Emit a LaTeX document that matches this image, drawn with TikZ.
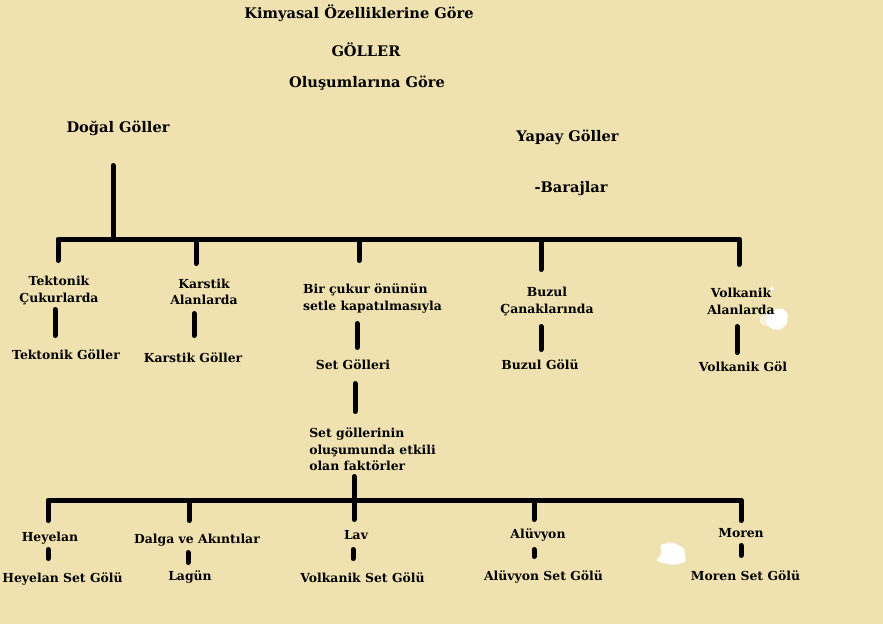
\documentclass[tikz,border=0pt]{standalone}
\usepackage{fontspec}
\setmainfont{DejaVu Serif}
\definecolor{paper}{HTML}{EFE2B0}
\begin{document}
\begin{tikzpicture}[x=1pt,y=-1pt,
  lbl/.style={font=\bfseries\fontsize{12.4}{16.5}\selectfont, inner sep=0pt, anchor=base, align=center},
  ttl/.style={lbl, font=\bfseries\fontsize{14.6}{17}\selectfont},
  lbll/.style={lbl, align=left},
  conn/.style={line width=5pt, line cap=round, line join=round, black, shorten >=2.5pt, shorten <=2.5pt},
  blob/.style={fill=white, draw=none}]
\fill[paper] (0,0) rectangle (883,624);
\useasboundingbox (0,0) rectangle (883,624);

% white eraser marks (behind the text)
\fill[blob, rounded corners=2pt] (770,311) -- (781,308) -- (788,313) -- (787,324) -- (780,330) -- (771,329) -- (766,323) -- cycle;
\fill[blob, opacity=0.6, rounded corners=2pt] (759,318) -- (768,312) -- (772,320) -- (768,327) -- (761,324) -- cycle;
\fill[blob] (772,289) circle (2);
\fill[blob, rounded corners=2pt] (660,545) -- (672,542) -- (684,548) -- (686,562) -- (672,565) -- (656,561) -- (662,553) -- cycle;

% titles
\node[ttl] (kim) at (359,18.5) {Kimyasal Özelliklerine Göre};
\node[ttl] (gol) at (366,56) {GÖLLER};
\node[ttl] (olu) at (367,87.5) {Oluşumlarına Göre};
\node[ttl] (dog) at (118,132.5) {Doğal Göller};
\node[ttl] (yap) at (567.5,141.5) {Yapay Göller};
\node[ttl] (bar) at (571,192) {-Barajlar};

% row 1 (base anchor = last line)
\node[lbl] (tc) at (59,302) {Tektonik\\Çukurlarda};
\node[lbl] (ka) at (204,304.5) {Karstik\\Alanlarda};
\node[lbll] (bc) at (372.5,310) {Bir çukur önünün\\setle kapatılmasıyla};
\node[lbl] (bz) at (547,313) {Buzul\\Çanaklarında};
\node[lbl] (va) at (741,314) {Volkanik\\Alanlarda};

% row 2
\node[lbl] (tg) at (66,359.5) {Tektonik Göller};
\node[lbl] (kg) at (193,362.5) {Karstik Göller};
\node[lbl] (sg) at (353,369.5) {Set Gölleri};
\node[lbl] (buzg) at (540,369.5) {Buzul Gölü};
\node[lbl] (vg) at (743,371.5) {Volkanik Göl};

\node[lbll] (sf) at (372.5,470.5) {Set göllerinin\\oluşumunda etkili\\olan faktörler};

% row 3
\node[lbl] (hy) at (50,541.5) {Heyelan};
\node[lbl] (da) at (197,543.5) {Dalga ve Akıntılar};
\node[lbl] (lav) at (356,539.5) {Lav};
\node[lbl] (al) at (538,538.5) {Alüvyon};
\node[lbl] (mo) at (741,537.5) {Moren};

% row 4
\node[lbl] (hsg) at (62.5,582.5) {Heyelan Set Gölü};
\node[lbl] (lag) at (190,580.5) {Lagün};
\node[lbl] (vsg) at (362.5,582.5) {Volkanik Set Gölü};
\node[lbl] (asg) at (543.5,580.5) {Alüvyon Set Gölü};
\node[lbl] (msg) at (745.5,580.5) {Moren Set Gölü};

% bar coordinates
\coordinate (j) at (113,239);
\coordinate (barR) at (739,239);
\coordinate (lb) at (354,500);
\coordinate (lbR) at (741,500);

% upper tree
\draw[conn] ([shift={(-5,30.5)}]dog.base) -- (j);
\draw[conn] ([shift={(-1,-39)}]tc.base) |- (barR) -- ([shift={(-2,-47)}]va.base);
\draw[conn] ([shift={(-8,-38.5)}]ka.base) coordinate (kaT) -- (kaT |- j);
\draw[conn] ([shift={(-13.5,-47)}]bc.base) coordinate (bcT) -- (bcT |- j);
\draw[conn] ([shift={(-6,-41)}]bz.base) coordinate (bzT) -- (bzT |- j);

\draw[conn] ([shift={(-4,5)}]tc.base) -- ([shift={(-11,-21.5)}]tg.base);
\draw[conn] ([shift={(-10,6.5)}]ka.base) -- ([shift={(1,-24.5)}]kg.base);
\draw[conn] ([shift={(-15.5,11)}]bc.base) -- ([shift={(4,-19.5)}]sg.base);
\draw[conn] ([shift={(-6,11)}]bz.base) -- ([shift={(1,-17.5)}]buzg.base);
\draw[conn] ([shift={(-4,10)}]va.base) -- ([shift={(-6,-16.5)}]vg.base);
\draw[conn] ([shift={(2,11.5)}]sg.base) -- ([shift={(-17.5,-56.5)}]sf.base);

% lower tree
\draw[conn] ([shift={(-18.5,3.5)}]sf.base) -- ([shift={(-2,-17.5)}]lav.base);
\draw[conn] ([shift={(-2,-18.5)}]hy.base) |- (lbR) -- ([shift={(0,-14.5)}]mo.base);
\draw[conn] ([shift={(-8,-20.5)}]da.base) coordinate (daT) -- (daT |- lb);
\draw[conn] ([shift={(-4,-16.5)}]al.base) coordinate (alT) -- (alT |- lb);

\draw[conn] ([shift={(-2,5.5)}]hy.base) -- ([shift={(-14.5,-21.5)}]hsg.base);
\draw[conn] ([shift={(-9,6.5)}]da.base) -- ([shift={(-2,-15.5)}]lag.base);
\draw[conn] ([shift={(-3,7.5)}]lav.base) -- ([shift={(-9.5,-21.5)}]vsg.base);
\draw[conn] ([shift={(-4,8.5)}]al.base) -- ([shift={(-9.5,-21.5)}]asg.base);
\draw[conn] ([shift={(0,5.5)}]mo.base) -- ([shift={(-4.5,-22.5)}]msg.base);
\end{tikzpicture}
\end{document}
